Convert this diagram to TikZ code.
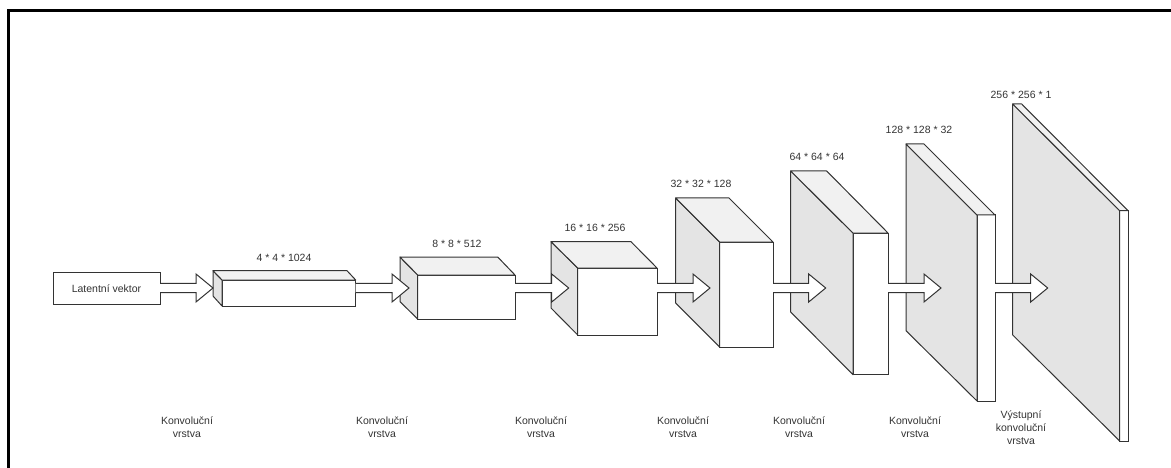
\documentclass[tikz,border=0pt]{standalone}
\usepackage{fontspec}
\setmainfont{Liberation Sans}
\usepackage{tikz}
\usetikzlibrary{calc}
\definecolor{cnnLine}{HTML}{333333}
\definecolor{cnnSide}{HTML}{E4E4E4}
\definecolor{cnnTop}{HTML}{F1F1F1}
\tikzset{
  cnn/input/.style={draw=cnnLine, line width=1pt, fill=white, anchor=north west, outer sep=0pt, inner sep=0pt, align=center, text=cnnLine, font=\fontsize{10.5}{13}\selectfont},
  cnn/front/.style={draw=cnnLine, line width=1pt, fill=white, anchor=north west, outer sep=0pt, inner sep=0pt},
  cnn/side/.style={draw=cnnLine, line width=1pt, line join=round, fill=cnnSide},
  cnn/top/.style={draw=cnnLine, line width=1pt, line join=round, fill=cnnTop},
  cnn/flow/.style={draw=cnnLine, line width=1pt, line join=miter, fill=white},
  cnn/label/.style={font=\fontsize{10.5}{13}\selectfont, text=cnnLine, align=center, inner sep=0pt},
  cnn/frame/.style={draw=black, line width=3pt}
}

\begin{document}
\begin{tikzpicture}[x=1pt, y=-1pt]
  \useasboundingbox (0,0) rectangle (1171,468);

  % frame is open on the right and at the bottom
  \coordinate (frameA) at (8.7,468);
  \coordinate (frameB) at (8.7,10.5);
  \coordinate (frameC) at (1171,10.5);
  \draw[cnn/frame] (frameA) -- (frameB) -- (frameC);

  \node[cnn/input, minimum width=107pt, minimum height=32pt] (latent) at (53,272.5) {Latentní vektor};

  % name / back left, back top, back right / front left, top, right, bottom / back bottom
  \foreach \name/\bx/\by/\br/\fx/\fy/\fr/\fb/\bb in {
    layer1/213/270.7/347/222/280/355.7/306/296,
    layer2/400/257/497.7/417.7/275/515/319/301.7,
    layer3/551/241.7/631/577.7/268/657/335/308,
    layer4/675.7/198/729/719.7/242/773/347/303,
    layer5/790.7/171/826.7/853/233/888/374.7/312,
    layer6/906/144/924/977/215/995/401/330.7,
    layer7/1012.7/104/1021.7/1119.7/210.7/1128/441/335}{
    \node[cnn/front, minimum width={(\fr-\fx)*1pt}, minimum height={(\fb-\fy)*1pt}] (\name) at (\fx,\fy) {};
    \draw[cnn/side] (\bx,\by) -- (\name.north west) -- (\name.south west) -- (\bx,\bb) -- cycle;
    \draw[cnn/top] (\bx,\by) -- (\br,\by) -- (\name.north east) -- (\name.north west) -- cycle;
  }

  % block arrows, tips sit on one height
  \foreach \from/\tip/\tipx in {latent/tip1/213, layer1/tip2/409, layer2/tip3/568.7, layer3/tip4/710, layer4/tip5/825.7, layer5/tip6/941, layer6/tip7/1047.7}{
    \coordinate (\tip) at (\tipx,288);
    \draw[cnn/flow] ($(\from.east |- \tip)+(0,-4.7)$) -- ($(\tip)+(-17,-4.7)$) -- ($(\tip)+(-17,-14)$) -- (\tip)
      -- ($(\tip)+(-17,14)$) -- ($(\tip)+(-17,4.7)$) -- ($(\from.east |- \tip)+(0,4.7)$);
  }

  \node[cnn/label] (dim1) at (284,257.7) {4 * 4 * 1024};
  \node[cnn/label] (dim2) at (457,244) {8 * 8 * 512};
  \node[cnn/label] (dim3) at (595,227.7) {16 * 16 * 256};
  \node[cnn/label] (dim4) at (701,183.5) {32 * 32 * 128};
  \node[cnn/label] (dim5) at (817,157) {64 * 64 * 64};
  \node[cnn/label] (dim6) at (919,130) {128 * 128 * 32};
  \node[cnn/label] (dim7) at (1021,95) {256 * 256 * 1};

  \foreach \name/\x in {conv1/187, conv2/382, conv3/541, conv4/683, conv5/799, conv6/915}{
    \node[cnn/label] (\name) at (\x,427.5) {Konvoluční\\vrstva};
  }
  \node[cnn/label] (convout) at (1021,428) {Výstupní\\konvoluční\\vrstva};
\end{tikzpicture}
\end{document}
